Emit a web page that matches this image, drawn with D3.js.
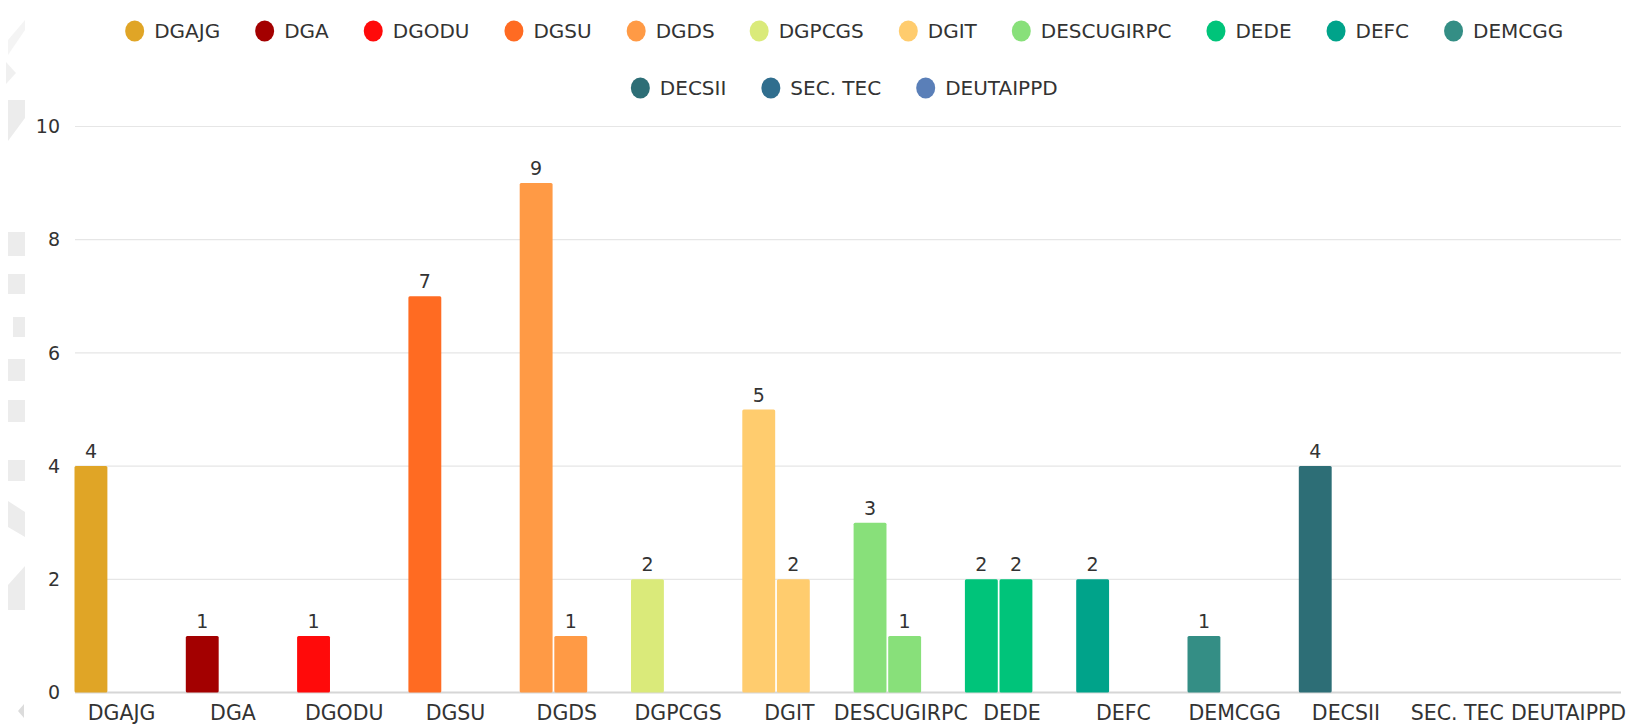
<!DOCTYPE html>
<html>
<head>
<meta charset="utf-8">
<script src="https://cdn.jsdelivr.net/npm/d3@7"></script>
<style>
  html, body { margin: 0; padding: 0; background: #fff; }
  svg { display: block; font-family: "DejaVu Sans", sans-serif; }
</style>
</head>
<body>
<svg id="chart" width="1628" height="724"></svg>
<script>
// data
const categories = ['DGAJG', 'DGA', 'DGODU', 'DGSU', 'DGDS', 'DGPCGS', 'DGIT',
    'DESCUGIRPC', 'DEDE', 'DEFC', 'DEMCGG', 'DECSII', 'SEC. TEC', 'DEUTAIPPD'];
const firstValues  = [4, 1, 1, 7, 9, 2, 5, 3, 2, 2, 1, 4, 0, 0];
const secondValues = [0, 0, 0, 0, 1, 0, 2, 1, 2, 0, 0, 0, 0, 0];
const colors = ['#E0A526', '#A30000', '#FF0A0A', '#FF6B22', '#FF9A45', '#DAEA7A', '#FFCC6E',
    '#88E07A', '#00C47A', '#00A38A', '#348E85', '#2D6E76', '#306E8E', '#5A7FB8'];
const yTicks = [0, 2, 4, 6, 8, 10];
const legendRows = [categories.slice(0, 11), categories.slice(11)];

const svg = d3.select('#chart');
const plot = { left: 75, right: 1621, top: 126.5, bottom: 692.5 };

// faint page decoration on the left edge
const deco = svg.append('g').attr('fill', '#ececec');
deco.append('path').attr('d', 'M8,100 L25,100 L25,118 L8,141 Z');
[[232, 256], [274, 294], [359, 381], [400, 422], [460, 481]].forEach(([a, b]) => {
    deco.append('rect').attr('x', 8).attr('y', a).attr('width', 17).attr('height', b - a);
});
deco.append('rect').attr('x', 13).attr('y', 317).attr('width', 12).attr('height', 20);
deco.append('path').attr('d', 'M8,501 L25,512 L25,537 L8,527 Z');
deco.append('path').attr('d', 'M8,585 L25,566 L25,610 L8,610 Z');
deco.append('path').attr('d', 'M8,55 L25,30 L25,20 L8,40 Z').attr('opacity', 0.6);
deco.append('path').attr('d', 'M6,62 L16,73 L6,84 Z').attr('opacity', 0.8);
deco.append('path').attr('d', 'M24,704 L18,711 L24,718 Z').attr('fill', '#dcdcdc');

const y = d3.scaleLinear().domain([0, 10]).range([plot.bottom, plot.top]);
const x = d3.scaleBand().domain(categories).range([70, 70 + 14 * 111.3]).padding(0);
const xSub = d3.scaleBand().domain([0, 1]).range([4.5, 72]).paddingInner(0.05);

// grid
svg.append('g').selectAll('line')
    .data(yTicks)
    .join('line')
    .attr('x1', plot.left).attr('x2', plot.right)
    .attr('y1', d => y(d)).attr('y2', d => y(d))
    .attr('stroke', d => d === 0 ? '#d6d6d6' : '#e6e6e6')
    .attr('stroke-width', d => d === 0 ? 2 : 1.2);

// y axis labels
svg.append('g').selectAll('text')
    .data(yTicks)
    .join('text')
    .attr('x', 60).attr('y', d => y(d))
    .attr('dy', '0.35em')
    .attr('text-anchor', 'end')
    .attr('font-size', 19)
    .attr('fill', '#333')
    .text(d => d);

// bars
const rows = [];
categories.forEach((c, i) => {
    rows.push({ cat: c, slot: 0, value: firstValues[i], color: colors[i] });
    rows.push({ cat: c, slot: 1, value: secondValues[i], color: colors[i] });
});
const shown = rows.filter(d => d.value > 0);

svg.append('g').selectAll('rect')
    .data(shown)
    .join('rect')
    .attr('x', d => x(d.cat) + xSub(d.slot))
    .attr('width', xSub.bandwidth())
    .attr('y', d => y(d.value))
    .attr('height', d => y(0) - y(d.value))
    .attr('rx', 1.5)
    .attr('fill', d => d.color);

// value labels
svg.append('g').selectAll('text')
    .data(shown)
    .join('text')
    .attr('x', d => x(d.cat) + xSub(d.slot) + xSub.bandwidth() / 2)
    .attr('y', d => y(d.value) - 8)
    .attr('text-anchor', 'middle')
    .attr('font-size', 19)
    .attr('fill', '#333')
    .text(d => d.value);

// x axis labels
svg.append('g').selectAll('text')
    .data(categories)
    .join('text')
    .attr('x', d => x(d) + x.bandwidth() / 2 - 4)
    .attr('y', 720)
    .attr('text-anchor', 'middle')
    .attr('font-size', 20.5)
    .attr('fill', '#333')
    .text(d => d);

// legend, centred over the plot
const legendCenter = 844;
const rowY = [31, 88];
const itemGap = 34.5;
legendRows.forEach((names, r) => {
    const g = svg.append('g');
    let cursor = 0;
    names.forEach(name => {
        const item = g.append('g').attr('transform', `translate(${cursor},0)`);
        item.append('ellipse')
            .attr('cx', 10).attr('cy', rowY[r])
            .attr('rx', 9.5).attr('ry', 10.5)
            .attr('fill', colors[categories.indexOf(name)]);
        const t = item.append('text')
            .attr('x', 29.5).attr('y', rowY[r])
            .attr('dy', '0.35em')
            .attr('font-size', 20)
            .attr('fill', '#333')
            .text(name);
        cursor += 29.5 + t.node().getComputedTextLength() + itemGap;
    });
    const total = cursor - itemGap;
    g.attr('transform', `translate(${legendCenter - total / 2},0)`);
});
</script>
</body>
</html>
